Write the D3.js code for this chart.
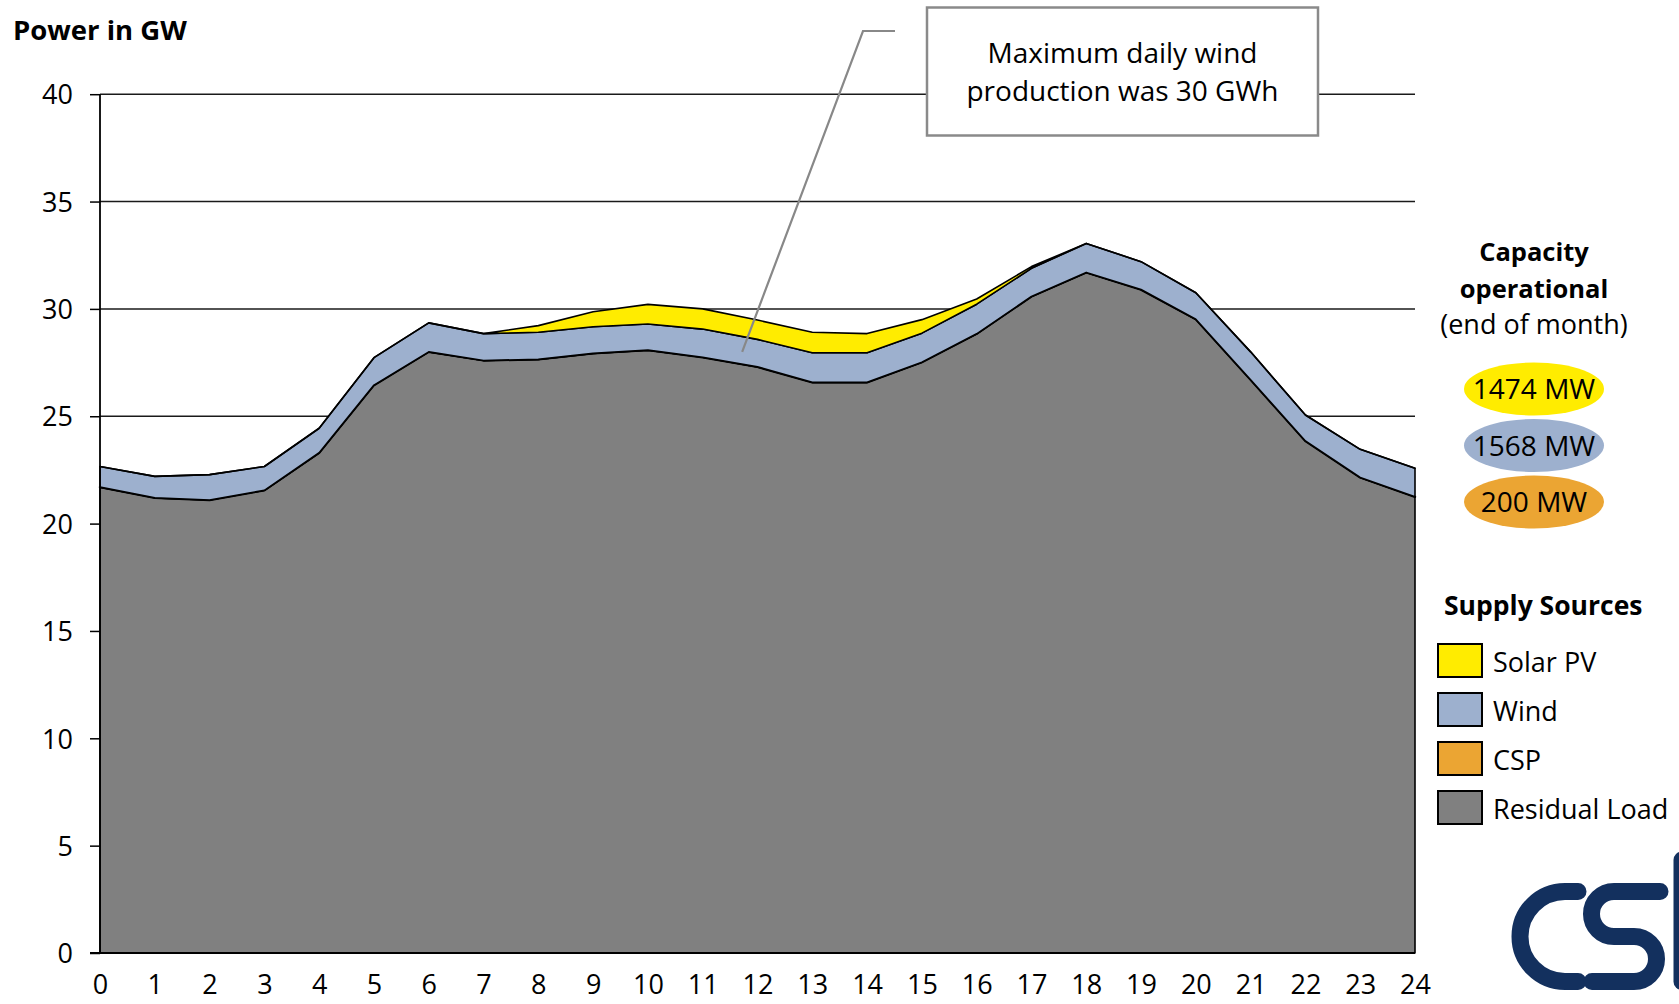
<!DOCTYPE html>
<html>
<head>
<meta charset="utf-8">
<script src="https://cdn.jsdelivr.net/npm/d3@7"></script>
<style>
  body { margin: 0; background: #fff; }
  svg { display: block; font-family: "Open Sans", sans-serif; }
  .axis text { font-size: 27px; fill: #000; font-family: "Open Sans", sans-serif; }
  .axis .domain { display: none; }
</style>
</head>
<body>
<svg id="chart" width="1679" height="1004"></svg>
<script>
// hour of day
const HOURS = [0,1,2,3,4,5,6,7,8,9,10,11,12,13,14,15,16,17,18,19,20,21,22,23,24];
// GW
const RESIDUAL = [21.70,21.20,21.10,21.55,23.30,26.45,28.00,27.60,27.65,27.93,28.08,27.75,27.30,26.58,26.58,27.52,28.84,30.58,31.70,30.90,29.52,26.70,23.85,22.15,21.25];
const CSP      = [0,0,0,0,0,0,0,0,0,0,0,0,0,0,0,0,0,0,0,0,0,0,0,0,0];
const WIND     = [0.96,1.00,1.18,1.11,1.14,1.28,1.35,1.25,1.26,1.24,1.22,1.31,1.28,1.38,1.38,1.35,1.38,1.31,1.35,1.30,1.23,1.30,1.21,1.31,1.33];
const SOLAR    = [0,0,0,0,0,0,0,0,0.31,0.70,0.91,0.94,0.90,0.95,0.89,0.63,0.24,0.08,0,0,0,0,0,0,0];

const Y_TICKS = [0,5,10,15,20,25,30,35,40];
const KEYS = ["residual","csp","wind","solar"];
const COLOR = {solar:"#FFEC00", wind:"#9DB0CE", csp:"#EBA533", residual:"#808080"};

const LEGEND = [["Solar PV","solar"],["Wind","wind"],["CSP","csp"],["Residual Load","residual"]];
const CAPACITY = [["1474 MW","solar"],["1568 MW","wind"],["200 MW","csp"]];

var svg = d3.select("#chart");

var x = d3.scaleLinear().domain([0, 24]).range([100, 1415]);
var y = d3.scaleLinear().domain([0, 40]).range([953, 94.2]);

// rows for the stack
var rows = HOURS.map(function(h, i) {
  return {hour: h, residual: RESIDUAL[i], csp: CSP[i], wind: WIND[i], solar: SOLAR[i]};
});
var layers = d3.stack().keys(KEYS)(rows);

// grid
svg.append("g").selectAll("line")
  .data(Y_TICKS.filter(function(d){ return d > 0; }))
  .enter().append("line")
  .attr("x1", x(0)).attr("x2", x(24))
  .attr("y1", function(d){ return y(d); }).attr("y2", function(d){ return y(d); })
  .attr("stroke", "#1a1a1a").attr("stroke-width", 1.5);

// areas
var area = d3.area()
  .x(function(d){ return x(d.data.hour); })
  .y0(function(d){ return y(d[0]); })
  .y1(function(d){ return y(d[1]); });

svg.append("g").selectAll("path")
  .data(layers)
  .enter().append("path")
  .attr("d", area)
  .attr("fill", function(d){ return COLOR[d.key]; })
  .attr("stroke", "#000")
  .attr("stroke-width", function(d){ return d.key == "csp" ? 2.4 : 1.6; })
  .attr("stroke-linejoin", "round");

// axes
var yAxis = d3.axisLeft(y).tickValues(Y_TICKS).tickSize(10).tickPadding(17);
var gy = svg.append("g").attr("class", "axis").attr("transform", "translate(" + x(0) + ",0)").call(yAxis);
gy.selectAll(".tick line").attr("stroke", "#000").attr("stroke-width", 1.5);
gy.selectAll("text").attr("dy", "0.36em");

var xAxis = d3.axisBottom(x).tickValues(HOURS).tickSize(0).tickPadding(22).tickFormat(d3.format("d"));
svg.append("g").attr("class", "axis").attr("transform", "translate(0," + y(0) + ")").call(xAxis);

svg.append("line").attr("x1", x(0)).attr("x2", x(0)).attr("y1", y(40)).attr("y2", y(0))
  .attr("stroke", "#000").attr("stroke-width", 1.8);
svg.append("line").attr("x1", x(0) - 10).attr("x2", x(24)).attr("y1", y(0)).attr("y2", y(0))
  .attr("stroke", "#000").attr("stroke-width", 1.8);

// title
svg.append("text").attr("x", 13).attr("y", 40)
  .attr("font-size", 27.5).attr("font-weight", "bold").text("Power in GW");

// callout
svg.append("polyline")
  .attr("points", [[895, 31], [863, 31], [x(11.72), y(28.0)]].map(function(p){ return p.join(","); }).join(" "))
  .attr("fill", "none").attr("stroke", "#888").attr("stroke-width", 2.2);
svg.append("rect").attr("x", 927).attr("y", 7.5).attr("width", 391).attr("height", 128)
  .attr("fill", "#fff").attr("stroke", "#8a8a8a").attr("stroke-width", 2.5);
var note = svg.append("text").attr("text-anchor", "middle").attr("font-size", 28);
note.append("tspan").attr("x", 1122.5).attr("y", 63).text("Maximum daily wind");
note.append("tspan").attr("x", 1122.5).attr("y", 101).text("production was 30 GWh");

// capacity block
var cap = svg.append("g");
cap.append("text").attr("x", 1534).attr("y", 261).attr("text-anchor", "middle")
  .attr("font-size", 25.5).attr("font-weight", "bold").text("Capacity");
cap.append("text").attr("x", 1534).attr("y", 298).attr("text-anchor", "middle")
  .attr("font-size", 25.5).attr("font-weight", "bold").text("operational");
cap.append("text").attr("x", 1534).attr("y", 334).attr("text-anchor", "middle")
  .attr("font-size", 27).text("(end of month)");

var capRow = cap.selectAll(".capRow").data(CAPACITY).enter().append("g")
  .attr("class", "capRow")
  .attr("transform", function(d, i){ return "translate(1534," + (389 + i * 56.5) + ")"; });
capRow.append("ellipse").attr("rx", 70).attr("ry", 26.5)
  .attr("fill", function(d){ return COLOR[d[1]]; });
capRow.append("text").attr("text-anchor", "middle").attr("y", 10)
  .attr("font-size", 28).text(function(d){ return d[0]; });

// legend
var leg = svg.append("g");
leg.append("text").attr("x", 1444).attr("y", 615)
  .attr("font-size", 26.5).attr("font-weight", "bold").text("Supply Sources");
var item = leg.selectAll(".item").data(LEGEND).enter().append("g")
  .attr("class", "item")
  .attr("transform", function(d, i){ return "translate(0," + (i * 49) + ")"; });
item.append("rect").attr("x", 1438).attr("y", 644).attr("width", 44).attr("height", 33)
  .attr("fill", function(d){ return COLOR[d[1]]; })
  .attr("stroke", "#000").attr("stroke-width", 2);
item.append("text").attr("x", 1493).attr("y", 672)
  .attr("font-size", 27).text(function(d){ return d[0]; });

// logo (cut off at the right edge)
var logo = svg.append("g").attr("fill", "none").attr("stroke", "#13305E")
  .attr("stroke-width", 17).attr("stroke-linecap", "round");
logo.append("path").attr("d", "M1578,891.5 H1565 A45,45 0 0 0 1565,981.5 H1578");
logo.append("path").attr("d", "M1660,891.5 H1614 A22.5,22.5 0 0 0 1614,936.5 H1634 A22.5,22.5 0 0 1 1634,981.5 H1592");
logo.append("path").attr("d", "M1682,860 V981.5");
</script>
</body>
</html>
